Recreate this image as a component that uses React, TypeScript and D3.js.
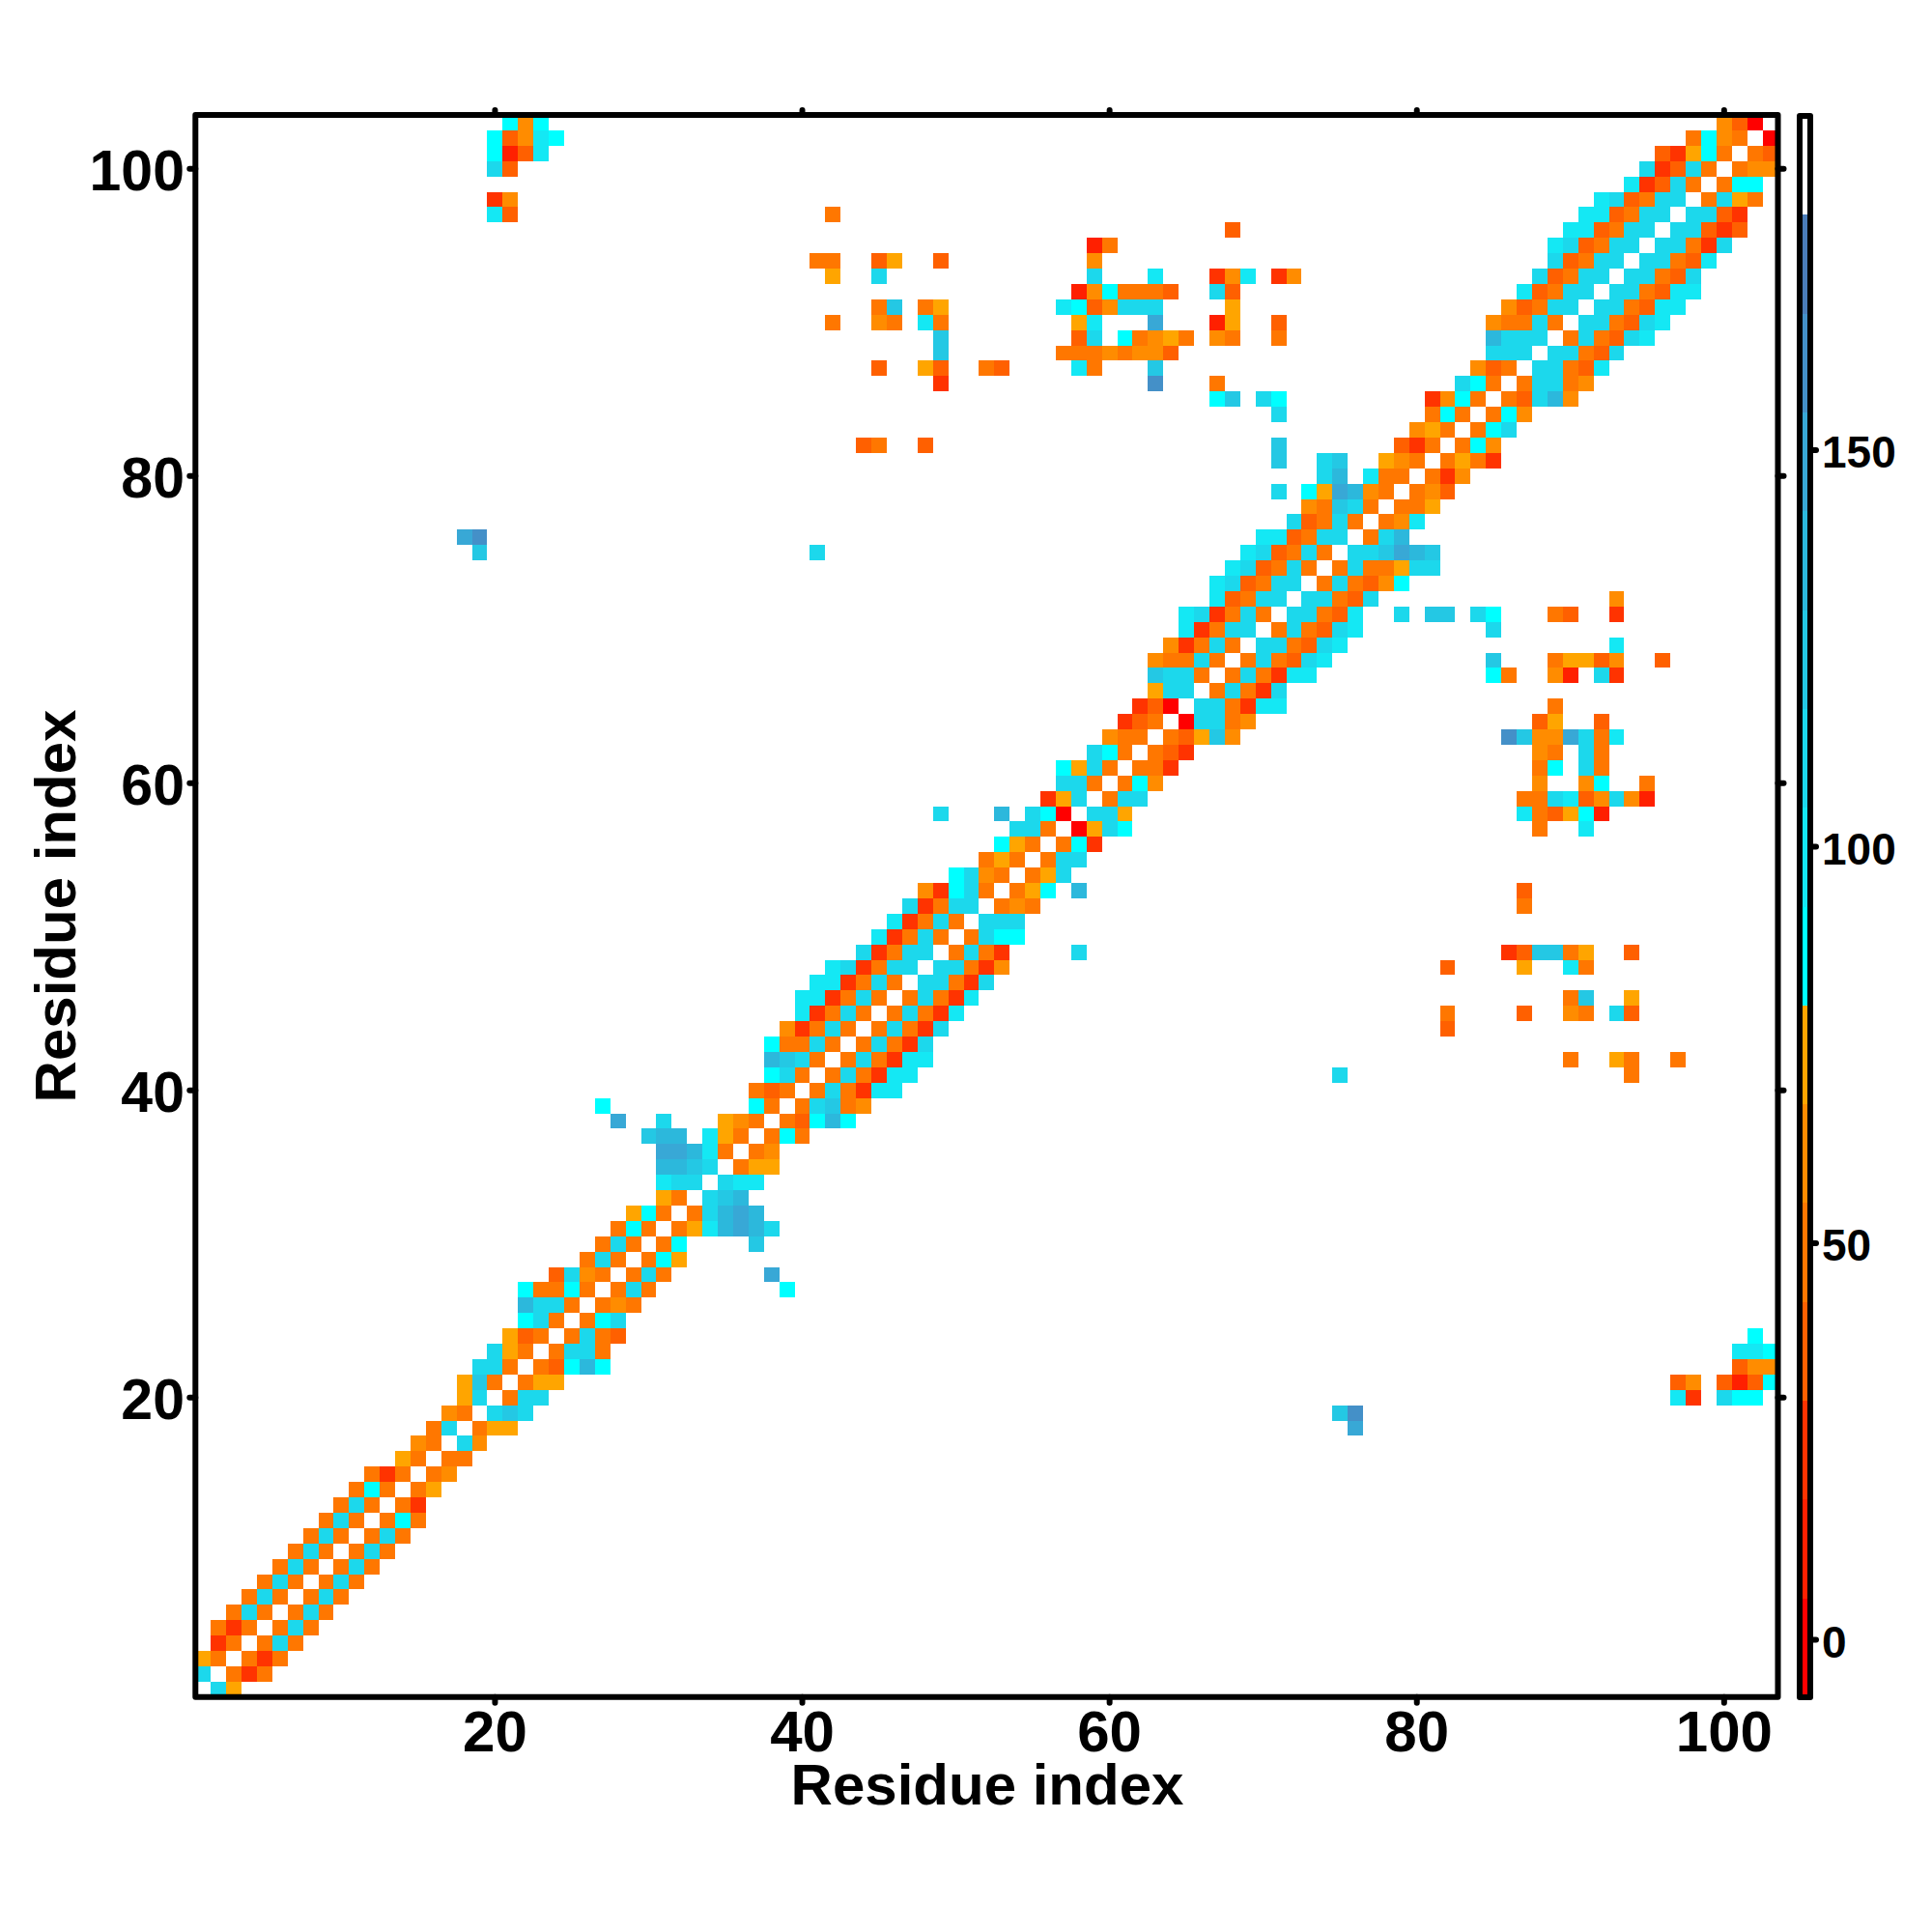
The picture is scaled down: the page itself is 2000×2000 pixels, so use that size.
import * as d3 from "d3";

const levelCodes = "012456789abcdefw";
const palette = [
  "#ff0000", "#ff2000", "#ff3300", "#ff6000", "#ff7700", "#ff8c00", "#ffa500",
  "#00ffff", "#14e8f4", "#1cd8ec", "#24c8e4", "#2cb8dc", "#38a8d6", "#4490c8", "#4a7cb8",
  "#ffffff",
];

// one string per residue i, codes for (i, i+1), (i, i+2) ...
const bandRows = [
  "a7", "525", "525", "5a5", "5a5", "5a5", "5a5", "5a5", "5a5", "5a5",
  "5a5", "585", "52", "57", "56", "55", "a6", "577", "aba", "5aa",
  "577", "548c8", "5aa5", "5a54", "58a", "565", "5a5", "5a5", "587", "58",
  "579cdca", "5acdc", "abc", "a99", "577", "56", "585", "548c8", "5ab56", "5a5299",
  "5a5299", "5a5299", "5a52a", "5a52a", "5a529", "5a529", "aa52a", "aa526", "5a52", "5a88",
  "aaa", "565", "578", "57a", "5aa", "582", "07a8", "aa7", "5aa", "586",
  "552", "542", "547b6", "0aa56", "aa5299", "5a52a", "5a5299", "5a54a9", "aa54a9", "5a54a9",
  "aa549", "aa54a", "5a5468", "5a557aa", "aabdcb", "5ac", "569", "557", "564", "526",
  "5752", "586", "58a", "586", "54ac6", "5aa56", "aa549", "aa54a", "5a54a9", "aa54a9",
  "aa5499", "aa5499", "aa54a", "aa549", "aa52a", "aa424", "aa42", "5a75", "588", "566",
  "54", "0",
];

const farContacts: [number, number, string][] = [
  [18, 76, "d"], [19, 75, "b"], [19, 76, "e"],
  [20, 97, "9"], [20, 98, "2"], [20, 100, "a"], [20, 101, "8"], [20, 102, "8"],
  [21, 97, "4"], [21, 98, "6"], [21, 100, "4"], [21, 101, "1"], [21, 102, "4"], [21, 103, "8"],
  [22, 101, "4"], [22, 102, "6"], [22, 103, "6"],
  [23, 101, "9"], [23, 102, "9"], [23, 103, "8"], [24, 102, "8"],
  [27, 39, "8"], [28, 38, "d"], [30, 37, "b"],
  [41, 75, "a"], [41, 94, "5"],
  [42, 90, "5"], [42, 93, "7"], [42, 94, "5"], [42, 97, "5"],
  [44, 82, "4"],
  [45, 82, "5"], [45, 87, "4"], [45, 90, "6"], [45, 91, "5"], [45, 93, "a"], [45, 94, "4"],
  [46, 90, "5"], [46, 91, "b"], [46, 94, "7"],
  [48, 82, "4"], [48, 87, "7"], [48, 90, "9"], [48, 91, "5"],
  [49, 58, "a"], [49, 86, "2"], [49, 87, "4"], [49, 88, "b"], [49, 89, "b"], [49, 90, "5"], [49, 91, "7"], [49, 94, "4"],
  [52, 87, "5"], [53, 58, "c"], [53, 87, "4"],
  [57, 88, "5"], [57, 91, "9"],
  [58, 87, "9"], [58, 88, "5"], [58, 89, "4"], [58, 90, "7"], [58, 91, "8"], [58, 92, "1"],
  [59, 87, "5"], [59, 88, "5"], [59, 89, "a"], [59, 90, "9"], [59, 91, "4"], [59, 92, "6"], [59, 93, "a"], [59, 94, "6"], [59, 95, "1"],
  [60, 88, "6"], [60, 91, "6"], [60, 92, "8"], [60, 95, "5"],
  [61, 88, "5"], [61, 89, "8"], [61, 91, "a"], [61, 92, "5"],
  [62, 88, "6"], [62, 89, "5"], [62, 91, "a"], [62, 92, "5"],
  [63, 86, "e"], [63, 87, "b"], [63, 88, "6"], [63, 89, "6"], [63, 90, "d"], [63, 91, "a"], [63, 92, "5"], [63, 93, "9"],
  [64, 88, "4"], [64, 89, "7"], [64, 92, "4"], [65, 89, "5"],
  [67, 85, "8"], [67, 86, "5"], [67, 89, "6"], [67, 90, "1"], [67, 92, "a"], [67, 93, "2"],
  [68, 85, "b"], [68, 89, "5"], [68, 90, "7"], [68, 91, "7"], [68, 92, "4"], [68, 93, "6"], [68, 96, "4"],
  [69, 93, "9"], [70, 85, "a"],
  [71, 79, "a"], [71, 81, "b"], [71, 82, "b"], [71, 84, "a"], [71, 85, "8"], [71, 89, "5"], [71, 90, "4"], [71, 93, "2"],
  [72, 93, "6"],
];

const axisTicks = [20, 40, 60, 80, 100];
const barTicks = [0, 50, 100, 150];
const axisTitle = "Residue index";

const x = d3.scaleLinear().domain([0.5, 103.5]).range([202.3, 1840.5]);
const y = d3.scaleLinear().domain([0.5, 103.5]).range([1756.7, 119]);
const barY = d3.scaleLinear().domain([0, 150]).range([1697.6, 466]);
const barDomain = [barY.invert(1757), barY.invert(120)];
const barStep = (barDomain[1] - barDomain[0]) / palette.length;

const cells = (() => {
  const out: { i: number; j: number; color: string }[] = [];
  const add = (i: number, j: number, code: string) => {
    const color = palette[levelCodes.indexOf(code)];
    out.push({ i, j, color }, { i: j, j: i, color });
  };
  bandRows.forEach((row, k) => {
    row.split("").forEach((code, d) => add(k + 1, k + 2 + d, code));
  });
  farContacts.forEach(([i, j, code]) => add(i, j, code));
  return out;
})();

const font = "'Liberation Sans', Arial, sans-serif";

export default function App() {
  const stroke = { stroke: "#000", strokeWidth: 6, strokeLinecap: "round" as const };
  return (
    <svg
      width={2000}
      height={2000}
      viewBox="0 0 2000 2000"
      style={{ position: "absolute", left: 0, top: 0, background: "#fff" }}
      fontFamily={font}
      fontWeight="bold"
    >
      <g shapeRendering="crispEdges">
        {cells.map((c) => (
          <rect
            key={`${c.i}-${c.j}`}
            x={x(c.i - 0.5)}
            y={y(c.j + 0.5)}
            width={x(c.i + 0.5) - x(c.i - 0.5)}
            height={y(c.j - 0.5) - y(c.j + 0.5)}
            fill={c.color}
          />
        ))}
      </g>

      <rect
        x={x(0.5)}
        y={y(103.5)}
        width={x(103.5) - x(0.5)}
        height={y(0.5) - y(103.5)}
        fill="none"
        stroke="#000"
        strokeWidth={6}
        strokeLinejoin="round"
      />

      {axisTicks.map((t) => (
        <g key={t}>
          <line x1={x(t)} x2={x(t)} y1={y(0.5)} y2={y(0.5) + 6} {...stroke} />
          <line x1={x(t)} x2={x(t)} y1={y(103.5)} y2={y(103.5) - 5} {...stroke} />
          <line x1={x(0.5)} x2={x(0.5) - 6} y1={y(t)} y2={y(t)} {...stroke} />
          <line x1={x(103.5)} x2={x(103.5) + 6} y1={y(t)} y2={y(t)} {...stroke} />
          <text x={x(t)} y={1813} textAnchor="middle" fontSize={60}>
            {t}
          </text>
          <text x={191} y={y(t) + 22} textAnchor="end" fontSize={59}>
            {t}
          </text>
        </g>
      ))}

      <text x={1022} y={1868} textAnchor="middle" fontSize={60}>
        {axisTitle}
      </text>
      <text transform="translate(78,938) rotate(-90)" textAnchor="middle" fontSize={60}>
        {axisTitle}
      </text>

      <g shapeRendering="crispEdges">
        {palette.map((color, k) => {
          const top = barY(barDomain[0] + (k + 1) * barStep);
          const bottom = barY(barDomain[0] + k * barStep);
          return <rect key={k} x={1863} y={top} width={11} height={bottom - top} fill={color} />;
        })}
      </g>
      <rect
        x={1863}
        y={barY(barDomain[1])}
        width={11}
        height={barY(barDomain[0]) - barY(barDomain[1])}
        fill="none"
        stroke="#000"
        strokeWidth={6}
        strokeLinejoin="round"
      />
      {barTicks.map((t) => (
        <g key={t}>
          <line x1={1874} x2={1880} y1={barY(t)} y2={barY(t)} {...stroke} />
          <text x={1886} y={barY(t) + 18} fontSize={46}>
            {t}
          </text>
        </g>
      ))}
    </svg>
  );
}
